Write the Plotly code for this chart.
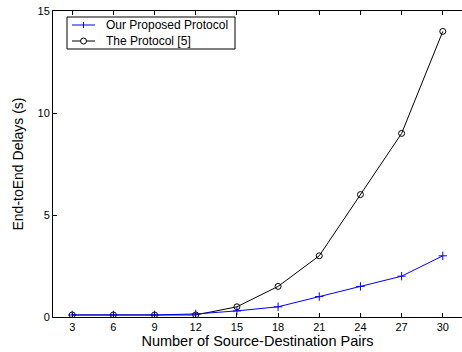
import plotly.graph_objects as go

pairs = [3, 6, 9, 12, 15, 18, 21, 24, 27, 30]
proposed = [0.1, 0.1, 0.1, 0.15, 0.3, 0.5, 1.0, 1.5, 2.0, 3.0]
protocol5 = [0.1, 0.1, 0.1, 0.1, 0.5, 1.5, 3.0, 6.0, 9.0, 14.0]
x_ticks = [3, 6, 9, 12, 15, 18, 21, 24, 27, 30]
y_ticks = [0, 5, 10, 15]
legend_names = ["Our Proposed Protocol", "The Protocol [5]"]

font = "Liberation Sans, Arial, Helvetica, sans-serif"
BLUE = "#0000ff"

fig = go.Figure()
fig.add_trace(go.Scatter(
    x=pairs, y=protocol5, name=legend_names[1], mode="lines+markers",
    line=dict(color="black", width=1),
    marker=dict(symbol="circle-open", size=6, color="black", line=dict(width=1)),
    showlegend=False,
))
fig.add_trace(go.Scatter(
    x=pairs, y=proposed, name=legend_names[0], mode="lines+markers",
    line=dict(color=BLUE, width=1),
    marker=dict(symbol="cross-thin-open", size=6, color=BLUE, line=dict(width=1, color=BLUE)),
    showlegend=False,
))

# MATLAB-style compact legend box (drawn in paper coordinates)
L, T, PW, PH = 53, 11, 409, 306
def px(x):
    return (x - L) / PW
def py(y):
    return (T + PH - y) / PH

shapes = [dict(type="rect", xref="paper", yref="paper",
               x0=px(67), x1=px(235), y0=py(49), y1=py(17),
               line=dict(color="black", width=1), fillcolor="white", layer="above")]
rows = [25, 41]
colors = [BLUE, "black"]
cx = px(83.5)
for ry, col, i in zip(rows, colors, range(2)):
    shapes.append(dict(type="line", xref="paper", yref="paper",
                       x0=px(72), x1=px(95), y0=py(ry), y1=py(ry),
                       line=dict(color=col, width=1), layer="above"))
    if i == 0:
        shapes.append(dict(type="line", xref="paper", yref="paper",
                           xsizemode="pixel", ysizemode="pixel", xanchor=cx, yanchor=py(ry),
                           x0=0, x1=0, y0=-3, y1=3, line=dict(color=col, width=1), layer="above"))
    else:
        shapes.append(dict(type="circle", xref="paper", yref="paper",
                           xsizemode="pixel", ysizemode="pixel", xanchor=cx, yanchor=py(ry),
                           x0=-3, x1=3, y0=-3, y1=3, line=dict(color=col, width=1),
                           fillcolor="white", layer="above"))
annotations = [dict(xref="paper", yref="paper", x=px(104), y=py(ry), text=name,
                    xanchor="left", yanchor="middle", showarrow=False,
                    font=dict(family=font, size=12, color="black"))
               for ry, name in zip(rows, legend_names)]

fig.update_layout(
    width=462, height=352,
    margin=dict(l=L, r=0, t=T, b=35),
    paper_bgcolor="white", plot_bgcolor="white",
    font=dict(family=font, size=11, color="black"),
    showlegend=False,
    shapes=shapes,
    annotations=annotations,
    xaxis=dict(
        range=[1.6, 31.4], tickvals=x_ticks, ticktext=[str(v) for v in x_ticks],
        showgrid=False, zeroline=False, showline=True, linecolor="black", linewidth=1,
        mirror="ticks", ticks="inside", ticklen=4, tickcolor="black",
        title=dict(text="Number of Source-Destination Pairs", font=dict(size=14.5), standoff=0),
        tickfont=dict(size=11),
    ),
    yaxis=dict(
        range=[0, 15], tickvals=y_ticks, ticktext=[str(v) for v in y_ticks],
        showgrid=False, zeroline=False, showline=True, linecolor="black", linewidth=1,
        mirror=False, ticks="inside", ticklen=4, tickcolor="black",
        title=dict(text="End-toEnd Delays (s)", font=dict(size=14), standoff=10),
        tickfont=dict(size=11),
    ),
)

fig.write_html("out.html")
